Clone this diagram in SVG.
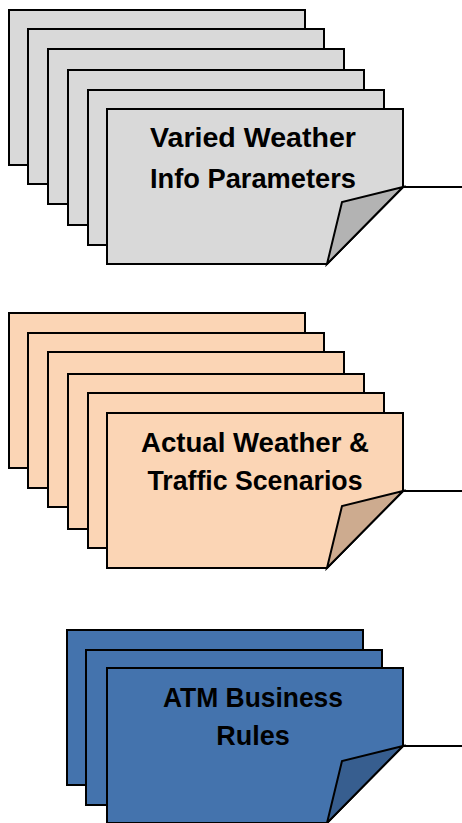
<svg xmlns="http://www.w3.org/2000/svg" width="462" height="823" viewBox="0 0 462 823">
  <style>
    .sheet { stroke: #000; stroke-width: 2; stroke-linejoin: miter; }
    .grey { fill: #d9d9d9; }
    .grey-fold { fill: #b3b3b3; }
    .peach { fill: #fbd5b5; }
    .peach-fold { fill: #cdab8f; }
    .blue { fill: #4473ad; }
    .blue-fold { fill: #375e8f; }
    .label { font-family: "Liberation Sans", Arial, sans-serif; font-weight: bold; font-size: 27px; fill: #000; text-anchor: middle; }
    .wire { stroke: #000; stroke-width: 2; fill: none; }
  </style>
  <defs>
    <!-- page with a curled lower-right corner, 296 x 155 -->
    <path id="page" d="M0,0 H296 V78 L220,155 H0 Z"/>
    <path id="curl" d="M296,78 L235,93 L220,155 Z"/>
  </defs>

  <!-- weather parameter documents -->
  <g id="weather-params">
    <use href="#page" class="sheet grey" x="9" y="10"/>
    <use href="#page" class="sheet grey" x="28" y="29"/>
    <use href="#page" class="sheet grey" x="48" y="49"/>
    <use href="#page" class="sheet grey" x="68" y="70"/>
    <use href="#page" class="sheet grey" x="88" y="90"/>
    <g transform="translate(107,109)">
      <use href="#page" class="sheet grey"/>
      <use href="#curl" class="sheet grey-fold"/>
    </g>
    <text class="label" x="253" y="147" textLength="206" lengthAdjust="spacingAndGlyphs">Varied Weather</text>
    <text class="label" x="253" y="188" textLength="206" lengthAdjust="spacingAndGlyphs">Info Parameters</text>
  </g>

  <!-- weather and traffic scenario documents -->
  <g id="scenarios">
    <use href="#page" class="sheet peach" x="9" y="313"/>
    <use href="#page" class="sheet peach" x="28" y="333"/>
    <use href="#page" class="sheet peach" x="48" y="352"/>
    <use href="#page" class="sheet peach" x="68" y="374"/>
    <use href="#page" class="sheet peach" x="88" y="393"/>
    <g transform="translate(107,413)">
      <use href="#page" class="sheet peach"/>
      <use href="#curl" class="sheet peach-fold"/>
    </g>
    <text class="label" x="255" y="452" textLength="228" lengthAdjust="spacingAndGlyphs">Actual Weather &amp;</text>
    <text class="label" x="255" y="490" textLength="215" lengthAdjust="spacingAndGlyphs">Traffic Scenarios</text>
  </g>

  <!-- business rule documents -->
  <g id="business-rules">
    <use href="#page" class="sheet blue" x="67" y="630"/>
    <use href="#page" class="sheet blue" x="86" y="650"/>
    <g transform="translate(107,668)">
      <use href="#page" class="sheet blue"/>
      <use href="#curl" class="sheet blue-fold"/>
    </g>
    <text class="label" x="253" y="707" textLength="180" lengthAdjust="spacingAndGlyphs">ATM Business</text>
    <text class="label" x="253" y="745">Rules</text>
  </g>

  <g id="connectors">
    <line class="wire" x1="403" y1="187" x2="462" y2="187"/>
    <line class="wire" x1="403" y1="491" x2="462" y2="491"/>
    <line class="wire" x1="403" y1="746" x2="462" y2="746"/>
  </g>
</svg>
